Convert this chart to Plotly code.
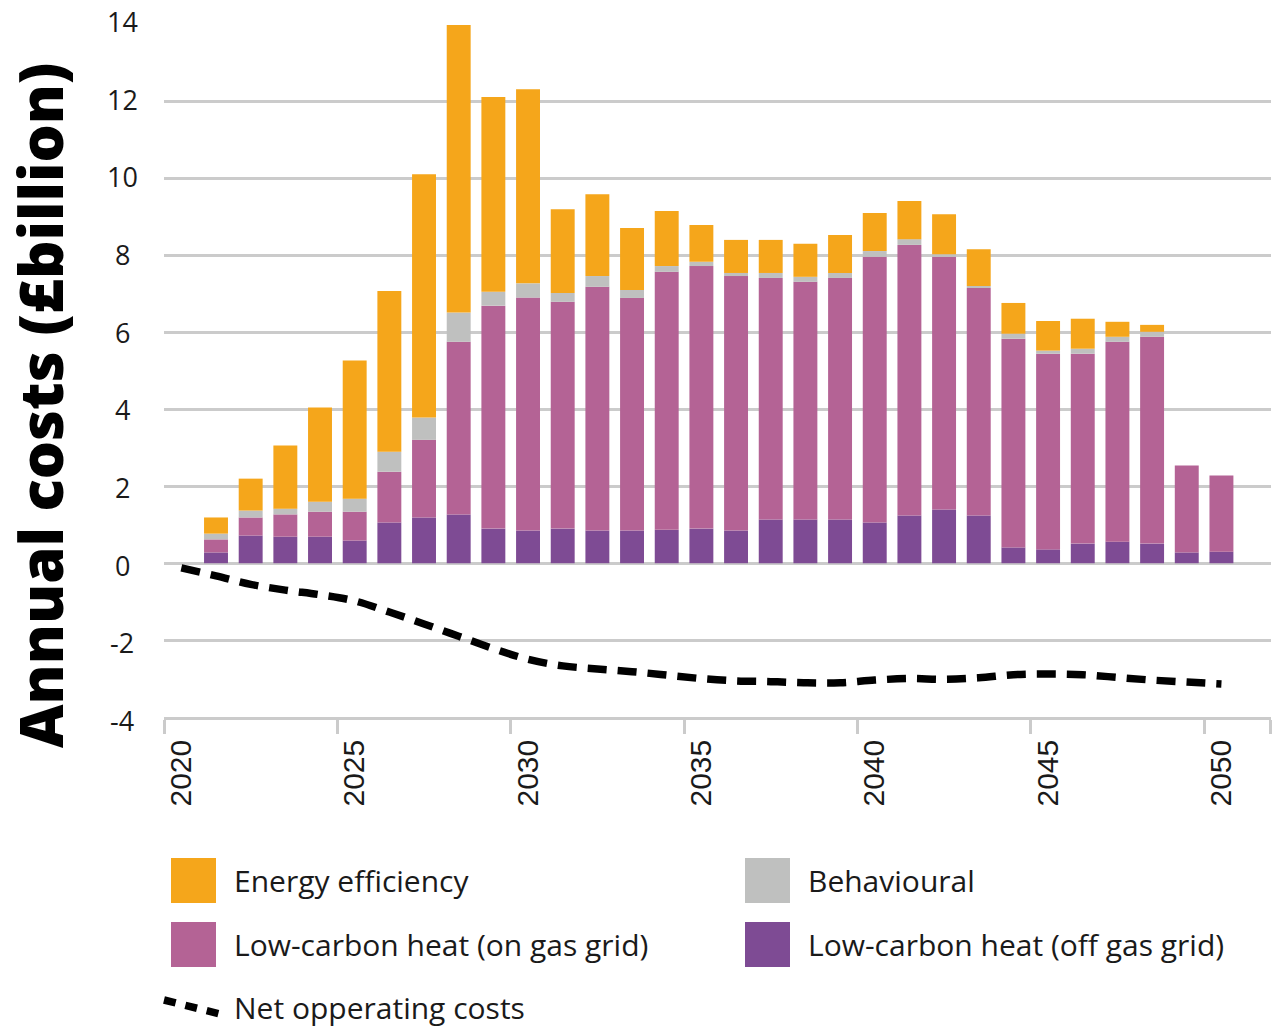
import plotly.graph_objects as go

# ---------------- data ----------------
years = list(range(2020, 2051))
energy_efficiency = [0, 0.42, 0.83, 1.64, 2.45, 3.59, 4.18, 6.33, 7.48, 5.07, 5.05,
                     2.18, 2.13, 1.61, 1.43, 0.96, 0.86, 0.86, 0.86, 0.99, 0.99,
                     0.99, 1.04, 0.96, 0.80, 0.77, 0.78, 0.39, 0.18, 0, 0]
behavioural = [0, 0.15, 0.18, 0.15, 0.26, 0.34, 0.52, 0.58, 0.76, 0.36, 0.37,
               0.23, 0.28, 0.21, 0.15, 0.11, 0.08, 0.13, 0.13, 0.13, 0.15,
               0.15, 0.07, 0.05, 0.13, 0.08, 0.13, 0.13, 0.13, 0, 0]
lch_on_grid = [0, 0.34, 0.47, 0.58, 0.65, 0.75, 1.32, 2.02, 4.49, 5.80, 6.06,
               5.90, 6.34, 6.05, 6.71, 6.83, 6.62, 6.28, 6.18, 6.28, 6.91,
               7.04, 6.57, 5.92, 5.43, 5.09, 4.94, 5.20, 5.38, 2.26, 1.98]
lch_off_grid = [0, 0.28, 0.72, 0.69, 0.69, 0.59, 1.06, 1.19, 1.27, 0.90, 0.85,
                0.90, 0.85, 0.85, 0.87, 0.90, 0.85, 1.14, 1.14, 1.14, 1.06,
                1.24, 1.40, 1.24, 0.41, 0.36, 0.51, 0.56, 0.51, 0.28, 0.30]
net_operating = [-0.12, -0.33, -0.55, -0.70, -0.82, -0.98, -1.27, -1.58, -1.90, -2.22, -2.50,
                 -2.67, -2.75, -2.82, -2.91, -3.00, -3.06, -3.08, -3.11, -3.11, -3.04,
                 -3.00, -3.02, -2.98, -2.90, -2.88, -2.90, -2.97, -3.04, -3.09, -3.14]
x_tick_years = [2020, 2025, 2030, 2035, 2040, 2045, 2050]
y_ticks = [-4, -2, 0, 2, 4, 6, 8, 10, 12, 14]

names = ["Energy efficiency", "Behavioural",
         "Low-carbon heat (on gas grid)", "Low-carbon heat (off gas grid)",
         "Net opperating costs"]
C_ORANGE = "#F5A61B"
C_GREY = "#BFC0BF"
C_PINK = "#B46395"
C_PURPLE = "#7E4B94"

# ---------------- layout geometry ----------------
W, H = 1272, 1028
L, R, T, B = 164, 1, 25, 311
PW = W - L - R
PH = H - T - B
X0 = 2019.5
X1 = X0 + PW / 34.67


def px(x):
    return (x - L) / PW


def py(y):
    return (H - B - y) / PH


TXT = "#1a1a1a"
FONT = "Open Sans"

fig = go.Figure()
bar_w = 0.69
for vals, nm, col in [(lch_off_grid, names[3], C_PURPLE),
                      (lch_on_grid, names[2], C_PINK),
                      (behavioural, names[1], C_GREY),
                      (energy_efficiency, names[0], C_ORANGE)]:
    fig.add_trace(go.Bar(x=years, y=vals, name=nm, marker_color=col,
                         marker_line_width=0, width=bar_w, showlegend=False))

fig.add_trace(go.Scatter(x=years, y=net_operating, name=names[4], mode="lines",
                         line=dict(color="black", width=7.5, dash="19px,11px",
                                   shape="spline", smoothing=1.0),
                         showlegend=False))

shapes = []
annotations = []

# y tick labels (centred, as in the original)
for v in y_ticks:
    annotations.append(dict(x=px(122), xref="paper", y=v, yref="y", text=str(v),
                            showarrow=False, xanchor="center", yanchor="middle",
                            yshift=(v - 5) * 0.4,
                            font=dict(family=FONT, size=27, color=TXT)))

# y axis title
annotations.append(dict(x=px(40), xref="paper", y=py(406), yref="paper",
                        text="Annual costs (£billion)", textangle=-90,
                        showarrow=False, xanchor="center", yanchor="middle",
                        font=dict(family=FONT, size=60, color="black", weight=800)))

# legend
legend_items = [
    (171, 858, C_ORANGE, names[0]),
    (745, 858, C_GREY, names[1]),
    (171, 922, C_PINK, names[2]),
    (745, 922, C_PURPLE, names[3]),
]
for x0, y0, col, nm in legend_items:
    shapes.append(dict(type="rect", xref="paper", yref="paper",
                       x0=px(x0), x1=px(x0 + 45), y0=py(y0 + 45), y1=py(y0),
                       fillcolor=col, line=dict(width=0)))
    annotations.append(dict(x=px(x0 + 61), xref="paper", y=py(y0 + 22), yref="paper",
                            text=nm, showarrow=False, xanchor="left", yanchor="middle",
                            font=dict(family=FONT, size=30, color=TXT)))
shapes.append(dict(type="line", xref="paper", yref="paper",
                   x0=px(164), y0=py(1000), x1=px(220), y1=py(1014),
                   line=dict(color="black", width=7.5, dash="12px,10px")))
annotations.append(dict(x=px(232), xref="paper", y=py(1008), yref="paper",
                        text=names[4], showarrow=False, xanchor="left", yanchor="middle",
                        font=dict(family=FONT, size=30, color=TXT)))

GRID = "#CBCBCB"
fig.update_layout(
    width=W, height=H, autosize=False,
    margin=dict(l=L, r=R, t=T, b=B, pad=0),
    paper_bgcolor="white", plot_bgcolor="white",
    barmode="relative",
    showlegend=False,
    shapes=shapes, annotations=annotations,
    xaxis=dict(range=[X0, X1], tickmode="array", tickvals=x_tick_years,
               ticktext=[str(v) for v in x_tick_years], ticks="",
               tickangle=-90, ticklabelstandoff=8,
               tickfont=dict(family="Liberation Sans", size=30, color=TXT),
               showgrid=False, zeroline=False,
               showline=True, linecolor=GRID, linewidth=2.5,
               minor=dict(tickmode="array",
                          tickvals=[2019.5, 2024.5, 2029.5, 2034.5, 2039.5, 2044.5, 2049.5, X1 - 0.01],
                          ticks="outside", ticklen=14, tickwidth=2.5, tickcolor=GRID,
                          showgrid=False)),
    yaxis=dict(range=[-4, 14], tickmode="array", tickvals=y_ticks,
               showticklabels=False, ticks="",
               showgrid=True, gridcolor=GRID, gridwidth=2.5,
               zeroline=False, showline=False),
)

fig.write_html("out.html")
